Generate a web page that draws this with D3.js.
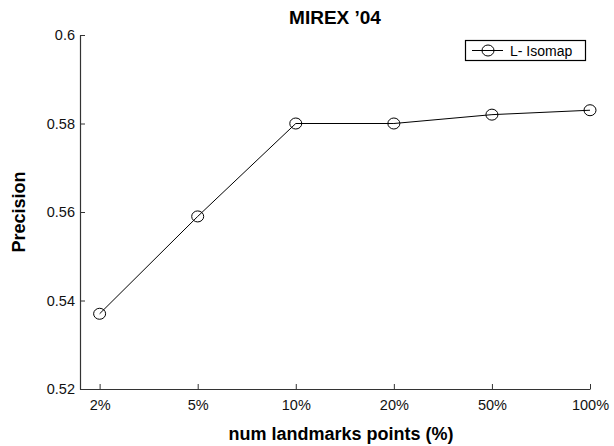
<!DOCTYPE html>
<html><head><meta charset="utf-8">
<script src="https://cdn.jsdelivr.net/npm/d3@7"></script>
<style>body{margin:0;background:#fff;} text{font-family:"Liberation Sans",Arial,Helvetica,sans-serif;}</style>
</head><body>
<svg id="c" width="614" height="446"></svg>
<script>
const categories = ["2%", "5%", "10%", "20%", "50%", "100%"];
const values = [0.537, 0.559, 0.580, 0.580, 0.582, 0.583];
const yTicks = [0.52, 0.54, 0.56, 0.58, 0.6];
const seriesName = "L- Isomap";
const title = "MIREX \u201904";
const xLabel = "num landmarks points (%)";
const yLabel = "Precision";

const svg = d3.select("#c");
const L = 80, R = 590, T = 35, B = 389;
const x = d3.scaleLinear().domain([0.8, categories.length]).range([L, R]);
const y = d3.scaleLinear().domain([0.52, 0.6]).range([B, T]);

const xAxis = d3.axisBottom(x).tickValues(d3.range(1, categories.length + 1))
  .tickFormat(i => categories[i - 1]).tickSizeInner(-5).tickSizeOuter(0).tickPadding(11);
const gx = svg.append("g").attr("transform", `translate(0,${B})`).call(xAxis);
const yAxis = d3.axisLeft(y).tickValues(yTicks).tickFormat(d => d === 0.6 ? "0.6" : d3.format(".2f")(d))
  .tickSizeInner(-5).tickSizeOuter(0).tickPadding(5);
const gy = svg.append("g").attr("transform", `translate(${L},0)`).call(yAxis);
[gx, gy].forEach(g => {
  g.select(".domain").attr("stroke", "#333").attr("stroke-width", 1.2);
  g.selectAll(".tick line").attr("stroke", "#333");
  g.selectAll("text").attr("font-size", 14.5).attr("fill", "#111")
    .style("font-family", '"Liberation Sans",Arial,sans-serif');
});
gx.selectAll("text").attr("dy", "0.71em");

const line = d3.line().x((d, i) => x(i + 1)).y(d => y(d));
svg.append("path").datum(values).attr("d", line).attr("fill", "none").attr("stroke", "#000").attr("stroke-width", 1);
svg.selectAll("ellipse.pt").data(values).enter().append("ellipse").attr("class", "pt")
  .attr("cx", (d, i) => x(i + 1)).attr("cy", d => y(d)).attr("rx", 6).attr("ry", 5.5)
  .attr("fill", "none").attr("stroke", "#000").attr("stroke-width", 1);

svg.append("text").attr("x", (L + R) / 2).attr("y", 24).attr("text-anchor", "middle")
  .attr("font-size", 19).attr("font-weight", "bold").text(title);
svg.append("text").attr("x", 341).attr("y", 440).attr("text-anchor", "middle")
  .attr("font-size", 18).attr("font-weight", "bold").text(xLabel);
svg.append("text").attr("transform", `translate(25,${(T + B) / 2}) rotate(-90)`).attr("text-anchor", "middle")
  .attr("font-size", 18).attr("font-weight", "bold").text(yLabel);

const lg = svg.append("g");
lg.append("rect").attr("x", 465.5).attr("y", 40.5).attr("width", 120).attr("height", 20)
  .attr("fill", "#fff").attr("stroke", "#000").attr("stroke-width", 1.2);
lg.append("line").attr("x1", 472).attr("x2", 503).attr("y1", 50.5).attr("y2", 50.5).attr("stroke", "#000");
lg.append("ellipse").attr("cx", 488).attr("cy", 50.5).attr("rx", 6).attr("ry", 5.5).attr("fill", "none").attr("stroke", "#000");
lg.append("text").attr("x", 510).attr("y", 55.5).attr("font-size", 14).text(seriesName);
</script>
</body></html>
